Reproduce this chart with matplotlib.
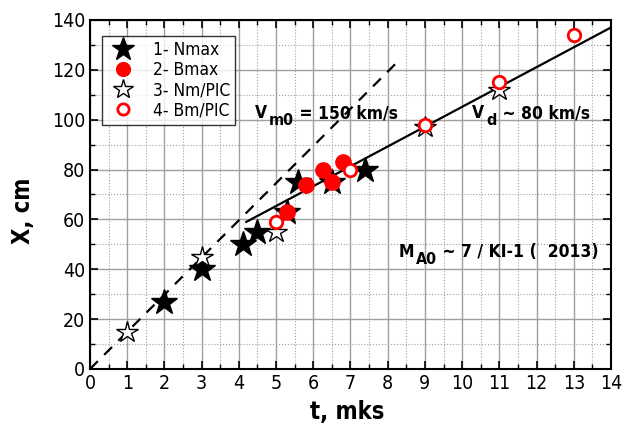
import matplotlib
matplotlib.use("Agg")
import matplotlib.pyplot as plt
from matplotlib.ticker import MultipleLocator

plt.rcParams['font.family'] = ['DejaVu Sans']
plt.rcParams['font.stretch'] = 'condensed'

# Data
nmax_t = [2.0, 3.0, 4.1, 4.5, 5.3, 5.6, 6.5, 7.4]
nmax_x = [27, 40, 50, 55, 63, 75, 75, 80]
bmax_t = [5.3, 5.8, 6.25, 6.5, 6.8]
bmax_x = [63, 74, 80, 75, 83]
nmpic_t = [1.0, 3.0, 5.0, 9.0, 11.0]
nmpic_x = [15, 45, 55, 97, 112]
bmpic_t = [5.0, 7.0, 9.0, 11.0, 13.0]
bmpic_x = [59, 80, 98, 115, 134]
dash_t = [0.0, 8.25]
dash_x = [0.0, 123.0]
solid_t = [4.2, 14.0]
solid_x = [59.0, 137.0]

fig = plt.figure(figsize=(6.36, 4.25), dpi=100)
ax = fig.add_axes([0.1415, 0.1318, 0.8192, 0.8212])

ax.set_xlim(0, 14)
ax.set_ylim(0, 140)
ax.xaxis.set_major_locator(MultipleLocator(1))
ax.xaxis.set_minor_locator(MultipleLocator(0.5))
ax.yaxis.set_major_locator(MultipleLocator(20))
ax.yaxis.set_minor_locator(MultipleLocator(10))
ax.grid(which='major', color='#a0a0a0', lw=1.0, ls='-')
ax.grid(which='minor', color='#a0a0a0', lw=0.8, ls=':')
ax.set_axisbelow(True)
ax.tick_params(which='both', direction='in', top=True, right=True, labelsize=14)
ax.tick_params(which='major', length=6, width=1.2)
ax.tick_params(which='minor', length=3.5, width=1.0)
for s in ax.spines.values():
    s.set_linewidth(1.5)

ax.plot(dash_t, dash_x, color='black', ls=(0, (5, 4)), lw=1.6, zorder=2)
ax.plot(solid_t, solid_x, color='black', ls='-', lw=1.6, zorder=2)

ax.plot(nmax_t, nmax_x, ls='none', marker='*', ms=19, color='black',
        label='1- Nmax', zorder=3)
ax.plot(bmax_t, bmax_x, ls='none', marker='o', ms=11, color='red', mec='red',
        label='2- Bmax', zorder=4)
ax.plot(nmpic_t, nmpic_x, ls='none', marker='*', ms=16, mfc='white', mec='black',
        mew=1.0, label='3- Nm/PIC', zorder=3)
ax.plot(bmpic_t, bmpic_x, ls='none', marker='o', ms=9, mfc='white', mec='red',
        mew=2.0, label='4- Bm/PIC', zorder=4)

leg = ax.legend(loc='upper left', bbox_to_anchor=(0.024, 0.954), fontsize=12.5,
                frameon=True, fancybox=False, edgecolor='black',
                handletextpad=0.8, borderpad=0.3, labelspacing=0.12,
                handlelength=1.8, borderaxespad=0, markerscale=0.9)
leg.get_frame().set_linewidth(1.0)


def sub_text(x, y, main, sub, rest, size=12.5, subsize=11.5):
    kw = dict(fontweight='bold', fontsize=size, va='bottom', ha='left')
    t1 = ax.text(x, y, main, **kw)
    t2 = ax.annotate(sub, xy=(1, 0), xycoords=t1, xytext=(1.5, -4.5),
                     textcoords='offset points', fontweight='bold',
                     fontsize=subsize, va='bottom', ha='left')
    ax.annotate(rest, xy=(1, 0), xycoords=(t2, t1), xytext=(0, 0),
                textcoords='offset points', **kw)


sub_text(4.43, 99, 'V', 'm0', ' = 150 km/s')
sub_text(10.27, 99, 'V', 'd', ' ~ 80 km/s')
sub_text(8.28, 43.5, 'M', 'A0', ' ~ 7 / KI-1 (  2013)')

ax.set_xlabel('t, mks', fontsize=17, fontweight='bold')
ax.set_ylabel('X, cm', fontsize=17, fontweight='bold')
ax.xaxis.set_label_coords(0.494, -0.123)
ax.xaxis.label.set_va('center')
ax.yaxis.set_label_coords(-0.128, 0.453)
ax.yaxis.label.set_va('center')

fig.savefig('out.png', dpi=100)
